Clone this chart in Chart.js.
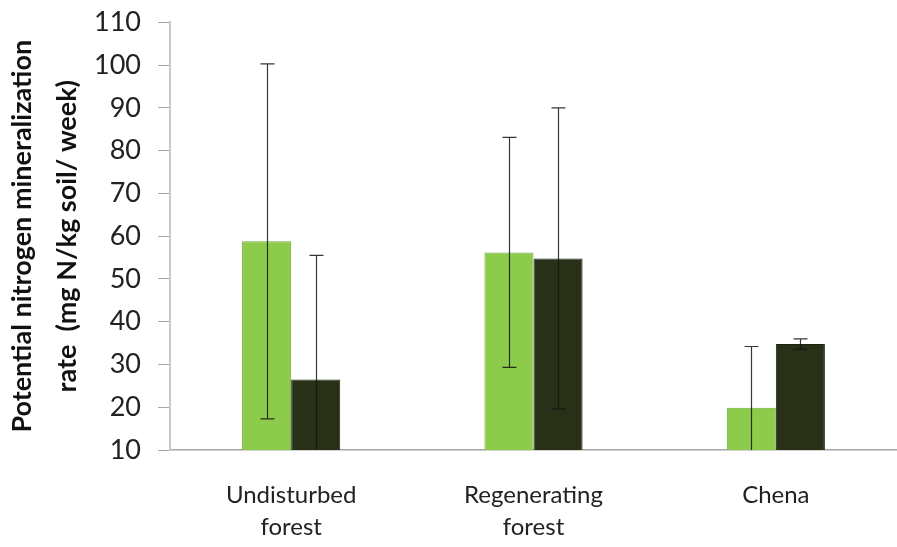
<!DOCTYPE html>
<html>
<head>
<meta charset="utf-8">
<script src="https://cdn.jsdelivr.net/npm/chart.js@4/dist/chart.umd.min.js"></script>
<style>
  html, body { margin: 0; padding: 0; background: #ffffff; }
  #wrap { width: 897px; height: 547px; position: relative; }
</style>
</head>
<body>
<div id="wrap"><canvas id="c"></canvas></div>
<script>
// ---- data ----
var categories = [["Undisturbed", "forest"], ["Regenerating", "forest"], "Chena"];
var lightValues = [58.8, 56.2, 19.9];
var lightErrors = [41.5, 26.9, 14.3];
var darkValues  = [26.5, 54.8, 34.8];
var darkErrors  = [29.0, 35.2, 1.2];
var yTicks = [10, 20, 30, 40, 50, 60, 70, 80, 90, 100, 110];
var yTitle = ["Potential nitrogen mineralization", "rate  (mg N/kg soil/ week)"];

var FONT = "Lato, 'Open Sans', sans-serif";

// draws symmetric error bars on top of each bar
var errorBars = {
    id: 'errorBars',
    afterDatasetsDraw: function (chart) {
        var ctx = chart.ctx;
        var y = chart.scales.y;
        var area = chart.chartArea;
        ctx.save();
        ctx.beginPath();
        ctx.rect(area.left, area.top - 5, area.right - area.left, area.bottom - area.top + 5);
        ctx.clip();
        chart.data.datasets.forEach(function (ds, i) {
            var meta = chart.getDatasetMeta(i);
            meta.data.forEach(function (bar, j) {
                var v = ds.data[j], e = ds.errors[j];
                var yHi = y.getPixelForValue(v + e);
                var yLo = y.getPixelForValue(v - e);
                var x = Math.round(bar.x) + 0.5;
                ctx.strokeStyle = 'rgba(20,20,20,0.85)';
                ctx.lineWidth = 1.2;
                ctx.beginPath();
                ctx.moveTo(x, yHi);
                ctx.lineTo(x, yLo);
                ctx.moveTo(x - 7, yHi);
                ctx.lineTo(x + 7, yHi);
                ctx.moveTo(x - 7, yLo);
                ctx.lineTo(x + 7, yLo);
                ctx.stroke();
            });
        });
        ctx.restore();
    }
};

new Chart(document.getElementById('c').getContext('2d'), {
    type: 'bar',
    data: {
        labels: categories,
        datasets: [{
            label: 'Light',
            data: lightValues,
            errors: lightErrors,
            backgroundColor: '#8dcc4a',
            borderColor: '#6fa838',
            borderWidth: 1
        }, {
            label: 'Dark',
            data: darkValues,
            errors: darkErrors,
            backgroundColor: '#283117',
            borderColor: '#1c2410',
            borderWidth: 1
        }]
    },
    options: {
        responsive: true,
        maintainAspectRatio: false,
        animation: false,
        layout: { padding: { top: 0, right: 0, bottom: 0, left: 0 } },
        plugins: {
            legend: { display: false },
            tooltip: { enabled: false }
        },
        datasets: { bar: { categoryPercentage: 0.405, barPercentage: 1.0 } },
        scales: {
            x: {
                grid: { display: false, drawTicks: false },
                border: { color: '#a6a6a6', width: 1.5 },
                ticks: {
                    color: '#222',
                    padding: 29,
                    maxRotation: 0,
                    font: { family: FONT, size: 24, lineHeight: 1.33 }
                },
                afterFit: function (s) { s.height = 97; }
            },
            y: {
                min: 10,
                max: 110,
                afterBuildTicks: function (s) {
                    s.ticks = yTicks.map(function (v) { return { value: v }; });
                },
                grid: { display: true, drawOnChartArea: false, drawTicks: true, tickLength: 12, color: '#a6a6a6' },
                border: { color: '#c8c8c8', width: 2 },
                ticks: {
                    color: '#222',
                    padding: 17,
                    font: { family: FONT, size: 27, lineHeight: 0.4 }
                },
                title: {
                    display: true,
                    text: yTitle,
                    color: '#111',
                    font: { family: FONT, size: 27, weight: 'bold', lineHeight: 1.65 },
                    padding: { top: 0, bottom: 0 }
                },
                afterFit: function (s) { s.width = 170; }
            }
        }
    },
    plugins: [errorBars]
});
</script>
</body>
</html>
